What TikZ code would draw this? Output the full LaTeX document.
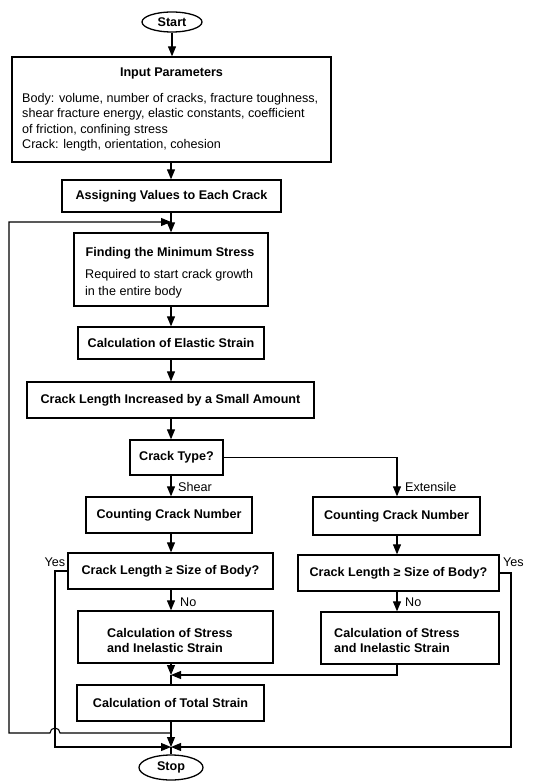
\documentclass[tikz,border=0pt]{standalone}
\usepackage{fontspec}
\setmainfont{Liberation Sans}
\usetikzlibrary{arrows.meta,shapes.geometric}
\begin{document}
\begin{tikzpicture}[x=1pt,y=-1pt,
  box/.style={draw,line width=1.3pt,rectangle,inner sep=0pt,font=\fontsize{12.6}{15.5}\selectfont\bfseries},
  term/.style={draw,ellipse,line width=1.3pt,inner sep=0pt,font=\fontsize{12.6}{15}\selectfont\bfseries},
  flow/.style={line width=1.1pt,-{Triangle[length=10pt,width=8pt]}},
  plain/.style={line width=1.1pt},
  lbl/.style={inner sep=0pt,font=\fontsize{12.6}{15}\selectfont},
  title/.style={inner sep=0pt,font=\fontsize{12.6}{15}\selectfont\bfseries},
  body/.style={inner sep=0pt,align=left,anchor=north west,font=\fontsize{12.6}{15.5}\selectfont}]
\useasboundingbox (0,0) rectangle (537,783);
% axes
\coordinate (ax) at (171,0);
\coordinate (rx) at (397,0);
\coordinate (yl) at (55,0);
\coordinate (yr) at (511,0);
\coordinate (lx) at (9,0);
% nodes
\node[term,minimum width=60pt,minimum height=20pt] (start) at (172,22) {Start};
\node[box,minimum width=319pt,minimum height=105pt] (input) at (171.5,109.5) {};
\node[title] (inputT) at (171.5,73) {Input Parameters};
\node[body] (inputB) at (22,93) {Body: volume, number of cracks, fracture toughness,\\shear fracture energy, elastic constants, coefficient\\of friction, confining stress\\Crack: length, orientation, cohesion};
\node[box,minimum width=219pt,minimum height=32pt] (assign) at (171.5,196) {Assigning Values to Each Crack};
\node[box,minimum width=194pt,minimum height=73pt] (finding) at (171,269.5) {};
\node[title] (findingT) at (170,253) {Finding the Minimum Stress};
\node[body,font=\fontsize{12.6}{17}\selectfont] (findingB) at (85,269) {Required to start crack growth\\in the entire body};
\node[box,minimum width=186pt,minimum height=32pt] (elastic) at (171,343) {Calculation of Elastic Strain};
\node[box,minimum width=287pt,minimum height=36pt] (cracklen) at (170.5,400) {Crack Length Increased by a Small Amount};
\node[box,minimum width=93pt,minimum height=35pt] (type) at (176.5,457.5) {Crack Type?};
\node[box,minimum width=166pt,minimum height=36pt] (countL) at (169,515) {Counting Crack Number};
\node[box,minimum width=167pt,minimum height=38pt] (countR) at (396.5,516) {Counting Crack Number};
\node[box,minimum width=205pt,minimum height=36pt] (decL) at (170.5,571) {Crack Length ≥ Size of Body?};
\node[box,minimum width=201pt,minimum height=36pt] (decR) at (398.5,573) {Crack Length ≥ Size of Body?};
\node[box,minimum width=195pt,minimum height=52pt] (calcL) at (175.5,637) {};
\node[title,align=left,anchor=north west,font=\fontsize{12.6}{15}\selectfont\bfseries] (calcLT) at (107,628) {Calculation of Stress\\and Inelastic Strain};
\node[box,minimum width=178pt,minimum height=52pt] (calcR) at (410,638) {};
\node[title,align=left,anchor=north west,font=\fontsize{12.6}{15}\selectfont\bfseries] (calcRT) at (334,628) {Calculation of Stress\\and Inelastic Strain};
\node[box,minimum width=187pt,minimum height=36pt] (total) at (170.5,703) {Calculation of Total Strain};
\node[term,minimum width=64pt,minimum height=25pt] (stop) at (171,767.5) {Stop};
% labels
\node[lbl,anchor=west] (shear) at (178,487) {Shear};
\node[lbl,anchor=west] (ext) at (405,487) {Extensile};
\node[lbl,anchor=west] (noL) at (180,602) {No};
\node[lbl,anchor=west] (noR) at (405,602) {No};
\node[lbl] (yesL) at (55,562) {Yes};
\node[lbl,anchor=west] (yesR) at (503,562) {Yes};
% join points
\coordinate (loopT) at (171,222);
\coordinate (mergeL) at (171,675);
\coordinate (loopA) at (171,733);
\coordinate (mergeB) at (171,747);
% connectors
\draw[flow] (start.south) -- (start.south |- input.north);
\draw[flow] (input.south -| ax) -- (assign.north -| ax);
\draw[flow] (assign.south -| ax) -- (finding.north -| ax);
\draw[flow] (finding.south -| ax) -- (elastic.north -| ax);
\draw[flow] (elastic.south -| ax) -- (cracklen.north -| ax);
\draw[flow] (cracklen.south -| ax) -- (type.north -| ax);
\draw[flow] (type.south -| ax) -- (countL.north -| ax);
\draw[flow] (type.east) -| (countR.north -| rx);
\draw[flow] (countL.south -| ax) -- (decL.north -| ax);
\draw[flow] (countR.south -| rx) -- (decR.north -| rx);
\draw[flow] (decL.south -| ax) -- (calcL.north -| ax);
\draw[flow] (decR.south -| rx) -- (calcR.north -| rx);
\draw[flow] (calcL.south -| ax) -- (mergeL);
\draw[flow] (calcR.south -| rx) |- (mergeL);
\draw[plain] (mergeL) -- (total.north -| ax);
\draw[plain] (total.south -| ax) -- (loopA);
\draw[flow] (loopA) -- (mergeB);
\draw[plain] (mergeB) -- (stop.north -| ax);
\draw[flow] (decL.west) -- (decL.west -| yl) |- (mergeB);
\draw[flow] (decR.east) -- (decR.east -| yr) |- (mergeB);
\draw[flow] (loopA) -- (loopA -| 60,0) arc[start angle=0,end angle=-180,radius=5] -- (loopA -| lx) |- (loopT);
\end{tikzpicture}
\end{document}
